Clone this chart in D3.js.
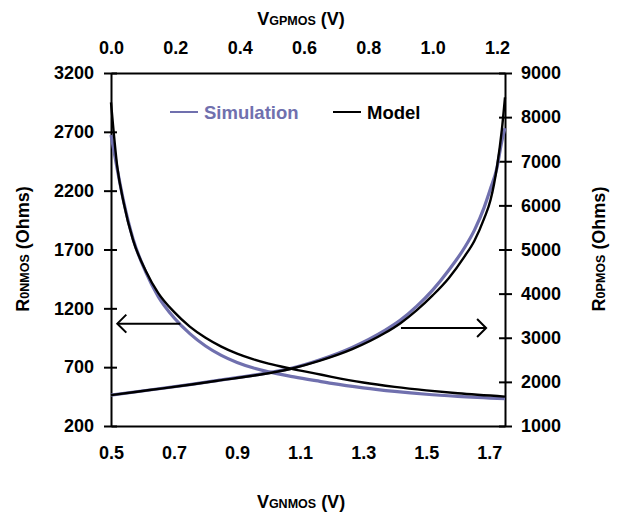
<!DOCTYPE html>
<html>
<head>
<meta charset="utf-8">
<script src="https://cdn.jsdelivr.net/npm/d3@7"></script>
<style>
  body { margin: 0; background: #fff; }
  text { font-family: "Liberation Sans", Arial, sans-serif; font-weight: bold; }
</style>
</head>
<body>
<div id="chart"></div>
<script>
// NMOS: on-resistance vs gate voltage (bottom / left axes)
const vgNmos = [0.50, 0.52, 0.54, 0.57, 0.61, 0.65, 0.70, 0.75, 0.80, 0.85, 0.90, 0.95, 1.00, 1.07, 1.15, 1.20, 1.30, 1.40, 1.50, 1.60, 1.75];
const rNmosSim = [2673, 2380, 2110, 1790, 1510, 1300, 1120, 985, 880, 800, 740, 695, 660, 622, 585, 562, 524, 494, 470, 452, 432];
const rNmosModel = [2950, 2400, 2100, 1780, 1520, 1330, 1170, 1045, 950, 875, 815, 768, 730, 688, 645, 618, 570, 533, 503, 478, 450];

// PMOS: on-resistance vs gate voltage (top / right axes)
const vgPmos = [0, 0.12, 0.25, 0.33, 0.45, 0.557, 0.65, 0.75, 0.85, 0.90, 0.95, 1.00, 1.05, 1.10, 1.13, 1.16, 1.18, 1.20, 1.215, 1.225];
const rPmosSim = [1700, 1815, 1945, 2030, 2160, 2300, 2500, 2780, 3160, 3400, 3710, 4080, 4530, 5050, 5440, 5950, 6380, 6850, 7450, 7750];
const rPmosModel = [1700, 1815, 1940, 2025, 2150, 2292, 2480, 2740, 3100, 3330, 3620, 3960, 4350, 4850, 5200, 5700, 6120, 6870, 7700, 8450];

const bottomTicks = [0.5, 0.7, 0.9, 1.1, 1.3, 1.5, 1.7];
const topTicks = [0.0, 0.2, 0.4, 0.6, 0.8, 1.0, 1.2];
const leftTicks = [200, 700, 1200, 1700, 2200, 2700, 3200];
const rightTicks = [1000, 2000, 3000, 4000, 5000, 6000, 7000, 8000, 9000];

const simColor = "#7070ae";
const width = 619, height = 517;
const margin = { top: 73, right: 114, bottom: 91, left: 111 };

const svg = d3.select("#chart").append("svg")
    .attr("width", width)
    .attr("height", height);

const xN = d3.scaleLinear().domain([0.5, 1.75]).range([margin.left, width - margin.right]);
const xP = d3.scaleLinear().domain([0, 1.225]).range([margin.left, width - margin.right]);
const yN = d3.scaleLinear().domain([200, 3200]).range([height - margin.bottom, margin.top]);
const yP = d3.scaleLinear().domain([1000, 9000]).range([height - margin.bottom, margin.top]);

// axes
const gBottom = svg.append("g")
    .attr("transform", `translate(0,${height - margin.bottom})`)
    .call(d3.axisBottom(xN).tickValues(bottomTicks).tickFormat(d3.format(".1f")).tickSize(0).tickPadding(20));
const gTop = svg.append("g")
    .attr("transform", `translate(0,${margin.top})`)
    .call(d3.axisTop(xP).tickValues(topTicks).tickFormat(d3.format(".1f")).tickSize(0).tickPadding(19));
const gLeft = svg.append("g")
    .attr("transform", `translate(${margin.left},0)`)
    .call(d3.axisLeft(yN).tickValues(leftTicks).tickFormat(d3.format("d")).tickSize(7).tickPadding(10).tickSizeOuter(0));
const gRight = svg.append("g")
    .attr("transform", `translate(${width - margin.right},0)`)
    .call(d3.axisRight(yP).tickValues(rightTicks).tickFormat(d3.format("d")).tickSize(7).tickPadding(9).tickSizeOuter(0));

// ticks cross the axis line
gLeft.selectAll(".tick line").attr("x2", -7).attr("x1", 6);
gRight.selectAll(".tick line").attr("x2", 7).attr("x1", -6);

[gBottom, gTop, gLeft, gRight].forEach(g => {
    g.select(".domain").attr("stroke", "#000").attr("stroke-width", 2);
    g.selectAll(".tick line").attr("stroke", "#000").attr("stroke-width", 2);
    g.selectAll(".tick text").attr("fill", "#000").style("font-size", "18px");
});

// curves
const lineN = d3.line().x(d => xN(d[0])).y(d => yN(d[1])).curve(d3.curveMonotoneX);
const lineP = d3.line().x(d => xP(d[0])).y(d => yP(d[1])).curve(d3.curveMonotoneX);

const series = [
    { data: d3.zip(vgNmos, rNmosSim), line: lineN, color: simColor, w: 3.2 },
    { data: d3.zip(vgPmos, rPmosSim), line: lineP, color: simColor, w: 3.2 },
    { data: d3.zip(vgNmos, rNmosModel), line: lineN, color: "#000", w: 2.4 },
    { data: d3.zip(vgPmos, rPmosModel), line: lineP, color: "#000", w: 2.4 }
];

svg.append("g").selectAll("path")
    .data(series)
    .enter().append("path")
    .attr("d", d => d.line(d.data))
    .attr("fill", "none")
    .attr("stroke", d => d.color)
    .attr("stroke-width", d => d.w);

// arrows pointing to the axis each curve belongs to
function arrow(x1, x2, y) {
    const dir = x2 < x1 ? 1 : -1;
    const g = svg.append("g").attr("stroke", "#000").attr("stroke-width", 2).attr("fill", "none");
    g.append("line").attr("x1", x1).attr("x2", x2).attr("y1", y).attr("y2", y);
    g.append("path").attr("d", `M${x2 + dir * 9},${y - 9} L${x2},${y} L${x2 + dir * 9},${y + 9}`);
}
arrow(xN(0.72), xN(0.52), yN(1070));
arrow(xN(1.42), xN(1.69), yP(3220));

// legend
const legend = svg.append("g");
legend.append("line").attr("x1", 170).attr("x2", 198).attr("y1", 112).attr("y2", 112)
    .attr("stroke", simColor).attr("stroke-width", 2);
legend.append("text").attr("x", 204).attr("y", 119).attr("fill", simColor)
    .style("font-size", "18.5px").text("Simulation");
legend.append("line").attr("x1", 333).attr("x2", 361).attr("y1", 112).attr("y2", 112)
    .attr("stroke", "#000").attr("stroke-width", 2);
legend.append("text").attr("x", 367).attr("y", 119).attr("fill", "#000")
    .style("font-size", "18.5px").text("Model");

// axis titles with subscripts
function title(x, y, rot, main, sub, rest) {
    const t = svg.append("text")
        .attr("transform", `translate(${x},${y}) rotate(${rot})`)
        .attr("text-anchor", "middle")
        .style("font-size", "18px");
    t.append("tspan").text(main);
    t.append("tspan").style("font-size", "12.5px").text(sub);
    t.append("tspan").text(rest);
}
title(301, 25, 0, "V", "GPMOS", " (V)");
title(301, 508, 0, "V", "GNMOS", " (V)");
title(29, 249, -90, "R", "0NMOS", " (Ohms)");
title(605, 249, -90, "R", "0PMOS", " (Ohms)");
</script>
</body>
</html>
